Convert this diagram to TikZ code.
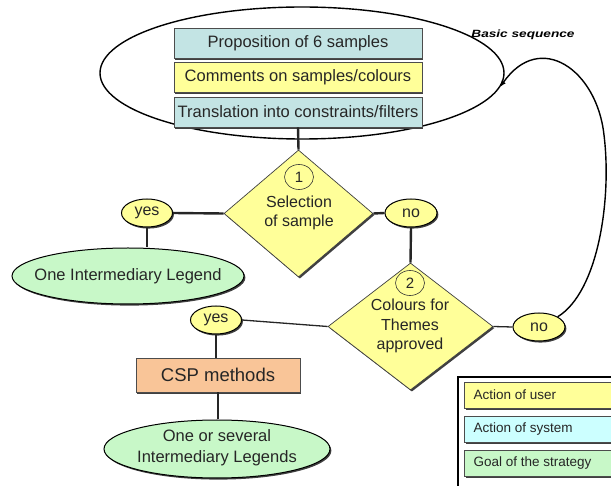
\documentclass[tikz,border=0pt]{standalone}
\usepackage{fontspec}
\usepackage{graphicx}
\setmainfont{Liberation Sans}
\usetikzlibrary{shapes.geometric,shadows,arrows.meta}
\definecolor{sysblue}{HTML}{C3E4E4}
\definecolor{useryellow}{HTML}{FFFF99}
\definecolor{goalgreen}{HTML}{C8F8C8}
\definecolor{csporange}{HTML}{F9C598}
\definecolor{legcyan}{HTML}{CCFFFF}
\begin{document}
\begin{tikzpicture}[x=1pt,y=-1pt,
  shad/.style={drop shadow={shadow xshift=1.4pt,shadow yshift=-1.6pt,fill=black!75,opacity=1}},
  boxst/.style={rectangle,draw=black!70,line width=0.6pt,minimum width=248pt,minimum height=30pt,inner sep=0pt,font=\fontsize{16.5}{18}\selectfont,text=black!85,shad},
  ovalst/.style={ellipse,draw=black,line width=1pt,fill=useryellow,minimum width=51pt,minimum height=28pt,inner sep=0pt,font=\fontsize{16}{18}\selectfont,text=black!85,shad},
  goalst/.style={ellipse,draw=black,line width=1pt,fill=goalgreen,inner sep=0pt,shad},
  goaltext/.style={font=\fontsize{16.5}{21}\selectfont,align=center,text=black!85},
  diast/.style={diamond,draw=black!75,line width=0.7pt,fill=useryellow,inner sep=0pt,shad},
  dtext/.style={font=\fontsize{16}{19.5}\selectfont,align=center,text=black!85},
  numst/.style={ellipse,draw=black!80,line width=0.6pt,minimum width=29pt,minimum height=25pt,inner sep=0pt,font=\fontsize{15}{16}\selectfont,text=black!85},
  conn/.style={draw=black!85,line width=2.4pt},
  thinconn/.style={draw=black!85,line width=1.3pt},
  legst/.style={rectangle,draw=black!70,line width=0.6pt,minimum width=160pt,minimum height=26pt,inner sep=0pt,anchor=north west,shad},
  legtext/.style={font=\fontsize{13.5}{15}\selectfont,anchor=west,text=black!85}
]
\useasboundingbox (0,0) rectangle (611,486);
\clip (0,0) rectangle (611,486);

% big ellipse
\node[ellipse,draw=black,line width=1.4pt,minimum width=404pt,minimum height=132pt,inner sep=0pt] (bigell) at (302,73) {};
\node[boxst,fill=sysblue] (prop) at (298,43) {Proposition of 6 samples};
\node[boxst,fill=useryellow] (comm) at (298,77) {Comments on samples/colours};
\node[boxst,fill=sysblue] (trans) at (298,112) {Translation into constraints/filters};

\node[font=\bfseries\itshape\fontsize{10.5}{11}\selectfont,inner sep=0pt] (basic) at (523,35) {\scalebox{1.3}[1]{Basic sequence}};

% diamond 1
\node[diast,minimum width=149pt,minimum height=127pt] (d1) at (298.5,213.5) {};
\node[numst] (n1) at (299,177) {1};
\node[dtext] (t1) at (299,213) {Selection\\of sample};

\node[ovalst] (yes1) at (147,213) {yes};
\node[ovalst,minimum width=52pt] (no1) at (411,213) {no};
\node[goalst,minimum width=232pt,minimum height=56pt] (goal1) at (128,276) {};
\node[goaltext] (g1t) at (128,276) {One Intermediary Legend};

% diamond 2
\node[diast,minimum width=165pt,minimum height=127pt] (d2) at (410.5,326.5) {};
\node[numst] (n2) at (410,283) {2};
\node[dtext] (t2) at (410,326) {Colours for\\Themes\\approved};

\node[ovalst] (yes2) at (216,320) {yes};
\node[ovalst,minimum width=52pt] (no2) at (539,327) {no};

\node[rectangle,draw=black!70,line width=0.6pt,fill=csporange,minimum width=164pt,minimum height=34pt,inner sep=0pt,font=\fontsize{18.5}{20}\selectfont,text=black!85,shad] (csp) at (218,375) {CSP methods};
\node[goalst,minimum width=226pt,minimum height=58pt] (goal2) at (217,449) {};
\node[goaltext] (g2t) at (217,448) {One or several\\Intermediary Legends};

% connectors
\draw[conn] (trans.south) -- (d1.north);
\draw[conn] (yes1.east) -- (d1.west);
\draw[conn] (d1.east) -- (no1.west);
\draw[conn] (yes1.south) -- (yes1.south |- goal1.north);
\draw[conn] (no1.south) -- (d2.north);
\draw[thinconn] (yes2.east) -- (d2.west);
\draw[thinconn] (d2.east) -- (no2.west);
\draw[conn] (yes2.south) -- (yes2.south |- csp.north);
\draw[conn] (csp.south) -- (csp.south |- goal2.north);
\draw[draw=black,line width=1.4pt,-{Latex[length=6pt,width=5pt]}] (no2.north east) .. controls (598,292) and (612,200) .. (604,135) .. controls (597,70) and (540,30) .. (bigell.-4);

% legend
\node[rectangle,draw=black,line width=1.6pt,minimum width=170pt,minimum height=130pt,anchor=north west,inner sep=0pt] (legbox) at (457,376) {};
\node[legst,fill=useryellow] (lu) at (464,382) {};
\node[legtext] (lut) at (470,395) {Action of user};
\node[legst,fill=legcyan] (ls) at (464,416) {};
\node[legtext] (lst) at (470,429) {Action of system};
\node[legst,fill=goalgreen] (lg) at (464,450) {};
\node[legtext] (lgt) at (470,463) {Goal of the strategy};
\end{tikzpicture}
\end{document}
